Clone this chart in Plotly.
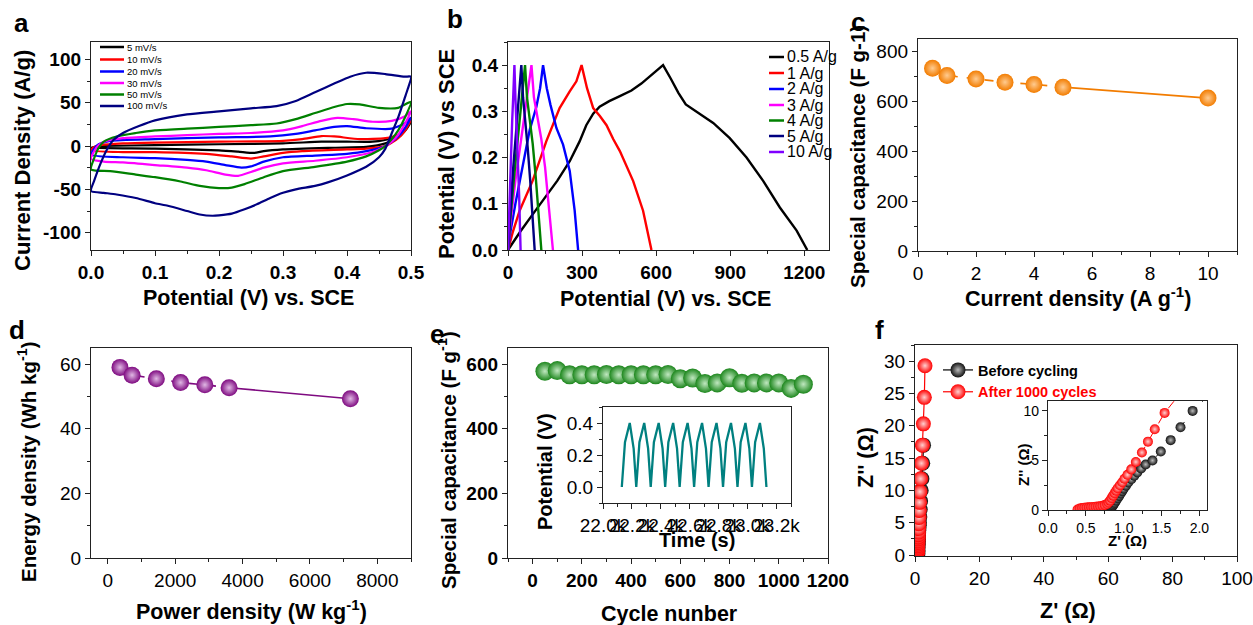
import plotly.graph_objects as go

W, H = 1253, 625
FONT = "Liberation Sans, Arial, sans-serif"

def px(x):
    return x / W

def py(y):
    return 1 - y / H

# ---------------- panel a : CV curves ----------------
cv_labels = ["5 mV/s", "10 mV/s", "20 mV/s", "30 mV/s", "50 mV/s", "100 mV/s"]
cv_colors = ["#000000", "#FF0000", "#0000FF", "#FF00FF", "#008000", "#000080"]

cv5_x = [0, 0.01, 0.02, 0.1, 0.2, 0.3, 0.36, 0.4, 0.44, 0.47, 0.49, 0.5,
         0.49, 0.48, 0.46, 0.43, 0.38, 0.3, 0.27, 0.255, 0.23, 0.2, 0.1, 0]
cv5_y = [-2, -0.5, 0, 1, 2, 3, 5, 5, 5, 9, 17, 28,
         17, 10, 3, -1, -2, -4, -6, -8, -6.5, -5, -3, -2]
cv10_x = [0, 0.005, 0.015, 0.05, 0.1, 0.2, 0.3, 0.33, 0.36, 0.38, 0.42, 0.46, 0.48, 0.49, 0.5,
          0.49, 0.48, 0.47, 0.46, 0.43, 0.4, 0.33, 0.3, 0.27, 0.25, 0.22, 0.18, 0.1, 0.05, 0]
cv10_y = [-5, -1, 1, 3, 4, 5, 6, 8, 11.5, 11, 8, 9, 13, 20, 30,
          17, 9, 4, 0, -3, -4, -6, -8, -12, -14.5, -12, -9, -7, -7, -5]
cv20_x = [0, 0.005, 0.012, 0.03, 0.1, 0.2, 0.28, 0.32, 0.35, 0.38, 0.4, 0.43, 0.47, 0.49, 0.5,
          0.49, 0.48, 0.47, 0.46, 0.43, 0.4, 0.35, 0.3, 0.27, 0.25, 0.235, 0.21, 0.18, 0.15, 0.1, 0.05, 0]
cv20_y = [-10, -3, 2, 6, 8, 10, 11, 14, 18, 22, 23, 20.5, 20, 26, 33,
          20, 11, 5, 0, -6, -9, -11, -13, -18, -23.5, -25, -22, -18, -16, -14, -13, -10]
cv30_x = [0, 0.005, 0.012, 0.025, 0.05, 0.1, 0.15, 0.2, 0.25, 0.3, 0.33, 0.36, 0.385, 0.41, 0.44, 0.47, 0.49, 0.5,
          0.49, 0.48, 0.47, 0.46, 0.44, 0.4, 0.35, 0.3, 0.27, 0.25, 0.23, 0.21, 0.18, 0.15, 0.1, 0.05, 0.02, 0]
cv30_y = [-15, -6, 1, 6, 9, 11, 12.5, 14, 15, 18, 23, 29, 32.5, 31, 28, 29, 34, 40,
          25, 13, 5, 0, -7, -13, -17, -20, -25, -30, -34.5, -33, -28, -25, -22, -19, -18, -15]
cv50_x = [0, 0.005, 0.012, 0.02, 0.04, 0.07, 0.1, 0.15, 0.2, 0.25, 0.29, 0.32, 0.35, 0.38, 0.4, 0.42, 0.45, 0.48, 0.5,
          0.49, 0.48, 0.47, 0.46, 0.45, 0.43, 0.4, 0.35, 0.3, 0.27, 0.24, 0.22, 0.2, 0.17, 0.14, 0.1, 0.07, 0.03, 0]
cv50_y = [-27, -14, -2, 5, 11, 15, 18, 20, 22, 24, 26, 31, 38, 45, 48.5, 48, 44, 44, 51,
          32, 18, 8, 0, -5, -12, -18, -24, -29, -36, -44, -48, -48.5, -46, -41, -36, -33, -29, -27]
cv100_x = [0, 0.005, 0.015, 0.025, 0.035, 0.05, 0.075, 0.1, 0.15, 0.2, 0.25, 0.29, 0.32, 0.35, 0.38, 0.405, 0.43, 0.46, 0.49, 0.5,
           0.495, 0.49, 0.48, 0.47, 0.46, 0.45, 0.43, 0.4, 0.37, 0.35, 0.32, 0.3, 0.28, 0.26, 0.24, 0.22, 0.2, 0.19, 0.17, 0.15, 0.12, 0.1, 0.07, 0.04, 0.02, 0]
cv100_y = [-52, -40, -20, -4, 7, 15, 23, 29.5, 36.5, 40, 43.5, 46, 52, 62, 72, 80, 84.5, 83, 80, 80,
           66, 55, 33, 15, -3, -13, -24, -34, -42, -46, -50, -54, -60, -67, -73, -78, -80, -80.5, -79, -75, -69, -66, -60, -56, -54, -52]
cv_x = [cv5_x, cv10_x, cv20_x, cv30_x, cv50_x, cv100_x]
cv_y = [cv5_y, cv10_y, cv20_y, cv30_y, cv50_y, cv100_y]
cv_yticks = [-100, -50, 0, 50, 100]
cv_yticktext = ["-100", "-50", "0", "50", "100"]

# ---------------- panel b : GCD curves ----------------
gcd_labels = ["0.5 A/g", "1 A/g", "2 A/g", "3 A/g", "4 A/g", "5 A/g", "10 A/g"]
gcd_colors = ["#000000", "#FF0000", "#0000FF", "#FF00FF", "#008000", "#000080", "#8000FF"]
g05_t = [0, 50, 100, 150, 200, 250, 290, 317, 345, 371, 410, 453, 500, 540, 588, 628,
         660, 690, 720, 763, 831, 898, 966, 1034, 1101, 1169, 1212]
g05_v = [0, 0.04, 0.077, 0.113, 0.15, 0.192, 0.235, 0.27, 0.295, 0.31, 0.322, 0.333, 0.345, 0.36, 0.383, 0.4,
         0.37, 0.34, 0.315, 0.3, 0.275, 0.242, 0.2, 0.149, 0.092, 0.042, 0]
g1_t = [0, 20, 47, 100, 155, 209, 250, 277, 298, 320, 345, 372, 399, 426, 453, 480, 507, 547, 581]
g1_v = [0, 0.04, 0.085, 0.15, 0.235, 0.307, 0.343, 0.365, 0.4, 0.35, 0.307, 0.29, 0.27, 0.24, 0.214, 0.18, 0.149, 0.085, 0]
g2_t = [0, 10, 30, 60, 88, 115, 130, 142, 157, 172, 196, 223, 250, 270, 284]
g2_v = [0, 0.04, 0.1, 0.18, 0.26, 0.31, 0.35, 0.4, 0.35, 0.314, 0.264, 0.228, 0.171, 0.085, 0]
g3_t = [0, 10, 30, 55, 75, 95, 105, 118, 135, 150, 165, 182]
g3_v = [0, 0.06, 0.15, 0.25, 0.32, 0.4, 0.33, 0.29, 0.24, 0.18, 0.1, 0]
g4_t = [0, 8, 25, 45, 58, 69, 77, 88, 100, 112, 124, 135]
g4_v = [0, 0.06, 0.16, 0.27, 0.33, 0.4, 0.33, 0.28, 0.23, 0.16, 0.08, 0]
g5_t = [0, 6, 20, 35, 45, 54, 61, 70, 80, 90, 99, 108]
g5_v = [0, 0.06, 0.17, 0.27, 0.33, 0.4, 0.33, 0.28, 0.22, 0.15, 0.08, 0]
g10_t = [0, 4, 10, 17, 21, 26, 30, 35, 40, 45, 51]
g10_v = [0, 0.08, 0.18, 0.28, 0.33, 0.4, 0.33, 0.27, 0.2, 0.12, 0]
gcd_t = [g05_t, g1_t, g2_t, g3_t, g4_t, g5_t, g10_t]
gcd_v = [g05_v, g1_v, g2_v, g3_v, g4_v, g5_v, g10_v]

# ---------------- panel c : rate capability ----------------
rate_current = [0.5, 1, 2, 3, 4, 5, 10]
rate_capacitance = [733, 704, 690, 677, 668, 657, 613]

# ---------------- panel d : Ragone ----------------
power_density = [360, 720, 1440, 2160, 2880, 3600, 7200]
energy_density = [59.0, 56.6, 55.5, 54.3, 53.6, 52.7, 49.3]

# ---------------- panel e : cycling ----------------
cycle_number = [50, 100, 150, 200, 250, 300, 350, 400, 450, 500, 550,
                600, 650, 700, 750, 800, 850, 900, 950, 1000, 1050, 1100]
cycle_capacitance = [578, 580, 567, 567, 567, 568, 567, 567, 567, 567, 568,
                     555, 557, 540, 542, 558, 541, 542, 542, 542, 525, 538]
inset_time = [22130, 22152, 22185, 22212, 22230, 22252, 22285, 22312, 22330, 22352, 22385, 22412,
              22430, 22452, 22485, 22512, 22530, 22552, 22585, 22612, 22630, 22652, 22685, 22712,
              22730, 22752, 22785, 22812, 22830, 22852, 22885, 22912, 22930, 22952, 22985, 23012,
              23030, 23052, 23085, 23112, 23130]
inset_potential = [0, 0.28, 0.40, 0.24, 0, 0.28, 0.40, 0.24, 0, 0.28, 0.40, 0.24,
                   0, 0.28, 0.40, 0.24, 0, 0.28, 0.40, 0.24, 0, 0.28, 0.40, 0.24,
                   0, 0.28, 0.40, 0.24, 0, 0.28, 0.40, 0.24, 0, 0.28, 0.40, 0.24,
                   0, 0.28, 0.40, 0.24, 0]
inset_tickvals = [22000, 22200, 22400, 22600, 22800, 23000, 23200]
inset_ticktext = ["22.0k", "22.2k", "22.4k", "22.6k", "22.8k", "23.0k", "23.2k"]

# ---------------- panel f : EIS ----------------
before_zre = [0.80, 0.81, 0.82, 0.83, 0.84, 0.85, 0.86, 0.87, 0.88, 0.90, 0.92, 0.94, 0.96, 0.98, 1.00,
              1.03, 1.06, 1.10, 1.14, 1.18, 1.23, 1.29, 1.38, 1.49, 1.62, 1.75, 1.91, 2.15, 2.40, 2.65]
before_zim = [0.00, 0.05, 0.10, 0.18, 0.27, 0.37, 0.48, 0.60, 0.73, 0.95, 1.18, 1.42, 1.66, 1.90, 2.15,
              2.45, 2.78, 3.10, 3.45, 3.80, 4.20, 4.60, 5.00, 5.90, 7.05, 8.35, 10.0, 11.8, 14.2, 17.0]
after_zre = [0.39, 0.42, 0.45, 0.48, 0.51, 0.54, 0.57, 0.60, 0.63, 0.66, 0.69, 0.72, 0.75, 0.78, 0.80,
             0.82, 0.84, 0.86, 0.88, 0.90, 0.92, 0.95, 0.98, 1.01, 1.05, 1.10, 1.16, 1.24, 1.32, 1.41,
             1.54, 1.75, 2.00, 2.30, 2.60, 2.90, 3.10]
after_zim = [0.05, 0.15, 0.20, 0.23, 0.25, 0.27, 0.29, 0.31, 0.33, 0.36, 0.39, 0.43, 0.50, 0.60, 0.75,
             0.95, 1.20, 1.45, 1.70, 1.95, 2.20, 2.50, 2.80, 3.15, 3.55, 4.10, 4.85, 5.80, 6.90, 8.15,
             9.80, 11.8, 14.2, 17.0, 20.3, 24.4, 29.3]

# ======================================================
fig = go.Figure()

for i in range(6):
    fig.add_trace(go.Scatter(x=cv_x[i], y=cv_y[i], mode="lines", name=cv_labels[i],
                             line=dict(color=cv_colors[i], width=2.2, shape="spline", smoothing=0.6),
                             showlegend=False, xaxis="x", yaxis="y"))

for i in range(7):
    fig.add_trace(go.Scatter(x=gcd_t[i], y=gcd_v[i], mode="lines", name=gcd_labels[i],
                             line=dict(color=gcd_colors[i], width=2.4),
                             showlegend=False, xaxis="x2", yaxis="y2"))

ORANGE = "#F27C00"
fig.add_trace(go.Scatter(x=rate_current[:6], y=rate_capacitance[:6], mode="lines",
                         line=dict(color=ORANGE, width=1.6, dash="dash"), showlegend=False,
                         xaxis="x3", yaxis="y3"))
fig.add_trace(go.Scatter(x=rate_current[5:], y=rate_capacitance[5:], mode="lines",
                         line=dict(color=ORANGE, width=1.6), showlegend=False, xaxis="x3", yaxis="y3"))
fig.add_trace(go.Scatter(x=rate_current, y=rate_capacitance, mode="markers",
                         marker=dict(size=17, color=ORANGE, gradient=dict(type="radial", color="#FFCB90"),
                                     line=dict(width=0)),
                         showlegend=False, xaxis="x3", yaxis="y3"))

PURPLE = "#7E0A80"
fig.add_trace(go.Scatter(x=power_density[:6], y=energy_density[:6], mode="lines",
                         line=dict(color=PURPLE, width=1.6, dash="dash"), showlegend=False,
                         xaxis="x4", yaxis="y4"))
fig.add_trace(go.Scatter(x=power_density[5:], y=energy_density[5:], mode="lines",
                         line=dict(color=PURPLE, width=1.6), showlegend=False, xaxis="x4", yaxis="y4"))
fig.add_trace(go.Scatter(x=power_density, y=energy_density, mode="markers",
                         marker=dict(size=17, color=PURPLE, gradient=dict(type="radial", color="#E0B8E4"),
                                     line=dict(width=0)),
                         showlegend=False, xaxis="x4", yaxis="y4"))

GREEN = "#1C861C"
fig.add_trace(go.Scatter(x=cycle_number, y=cycle_capacitance, mode="markers",
                         marker=dict(size=19, color=GREEN, gradient=dict(type="radial", color="#C0E8C0"),
                                     line=dict(width=0)),
                         showlegend=False, xaxis="x5", yaxis="y5"))
fig.add_trace(go.Scatter(x=inset_time, y=inset_potential, mode="lines",
                         line=dict(color="#008080", width=2.3), showlegend=False, xaxis="x6", yaxis="y6"))

fig.add_trace(go.Scatter(x=before_zre, y=before_zim, mode="lines+markers", name="<b>Before cycling</b>",
                         line=dict(color="#000000", width=1.2),
                         marker=dict(size=15, color="#111111", gradient=dict(type="radial", color="#BBBBBB"),
                                     line=dict(width=0)),
                         legend="legend", xaxis="x7", yaxis="y7"))
fig.add_trace(go.Scatter(x=after_zre, y=after_zim, mode="lines+markers",
                         name='<span style="color:#FF0000"><b>After 1000 cycles</b></span>',
                         line=dict(color="#FF0000", width=1.2),
                         marker=dict(size=15, color="#FF0000", gradient=dict(type="radial", color="#FFD0D0"),
                                     line=dict(width=0)),
                         legend="legend", xaxis="x7", yaxis="y7"))
fig.add_trace(go.Scatter(x=before_zre, y=before_zim, mode="lines+markers",
                         line=dict(color="#000000", width=1, dash="dash"),
                         marker=dict(size=10, color="#111111", gradient=dict(type="radial", color="#BBBBBB"),
                                     line=dict(width=0)),
                         showlegend=False, xaxis="x8", yaxis="y8"))
fig.add_trace(go.Scatter(x=after_zre, y=after_zim, mode="lines+markers",
                         line=dict(color="#FF0000", width=1, dash="dash"),
                         marker=dict(size=10, color="#FF0000", gradient=dict(type="radial", color="#FFD0D0"),
                                     line=dict(width=0)),
                         showlegend=False, xaxis="x8", yaxis="y8"))


def tf(size=19, bold=False):
    d = dict(family=FONT, size=size, color="#000000")
    if bold:
        d["weight"] = "bold"
    return d


def axis(dom, rng, anchor, tickfont, minor_dtick=None, minor_tick0=0, **kw):
    d = dict(domain=dom, range=rng, anchor=anchor, showline=True, linecolor="#222222", linewidth=1.3,
             mirror=True, ticks="outside", ticklen=5, tickwidth=1.2, tickcolor="#222222",
             showgrid=False, zeroline=False, fixedrange=True, tickfont=tickfont, automargin=False)
    if minor_dtick is not None:
        d["minor"] = dict(ticks="outside", ticklen=3, tickwidth=1, tickcolor="#222222",
                          tickmode="linear", tick0=minor_tick0, dtick=minor_dtick, showgrid=False)
    d.update(kw)
    return d


def xd(a, b):
    return [px(a), px(b)]


def yd(top, bottom):
    return [py(bottom), py(top)]


layout = dict(
    width=W, height=H, margin=dict(l=0, r=0, t=0, b=0, autoexpand=False),
    paper_bgcolor="white", plot_bgcolor="white", font=dict(family=FONT, color="black"),
    showlegend=True,
    # a
    xaxis=axis(xd(91, 411), [0, 0.5], "y", tf(19, True), 0.05, 0, dtick=0.1, tick0=0, tickformat=".1f"),
    yaxis=axis(yd(42, 250), [-120, 120], "x", tf(19, True), 25, 0,
               tickmode="array", tickvals=cv_yticks, ticktext=cv_yticktext),
    # b
    xaxis2=axis(xd(508, 829), [0, 1300], "y2", tf(19, True), 150, 0, dtick=300, tick0=0),
    yaxis2=axis(yd(42, 250), [0, 0.45], "x2", tf(19, True), 0.05, 0, dtick=0.1, tickformat=".1f"),
    # c
    xaxis3=axis(xd(918, 1237), [0, 11], "y3", tf(19), 1, 0, dtick=2, tick0=0),
    yaxis3=axis(yd(39, 251), [0, 850], "x3", tf(19), 100, 0, dtick=200, tick0=0),
    # d
    xaxis4=axis(xd(91, 411), [-500, 9000], "y4", tf(19), 1000, 0, dtick=2000, tick0=0),
    yaxis4=axis(yd(348, 558), [0, 65], "x4", tf(19), 10, 0, dtick=20, tick0=0),
    # e
    xaxis5=axis(xd(508, 828), [-100, 1200], "y5", tf(19, True), 100, 0, dtick=200, tick0=0),
    yaxis5=axis(yd(348, 558), [0, 650], "x5", tf(19, True), 100, 0, dtick=200, tick0=0),
    # e inset
    xaxis6=axis(xd(603, 791), [22000, 23300], "y6", tf(19), 100, 22000,
                tickmode="array", tickvals=inset_tickvals, ticktext=inset_ticktext, tickangle=0),
    yaxis6=axis(yd(407, 503), [-0.1, 0.5], "x6", tf(19), 0.1, 0, dtick=0.2, tick0=0, tickformat=".1f"),
    # f
    xaxis7=axis(xd(915, 1237), [0, 100], "y7", tf(19), 10, 0, dtick=20, tick0=0),
    yaxis7=axis(yd(345, 556), [-0.15, 32.5], "x7", tf(19), 2.5, 0, dtick=5, tick0=0),
    # f inset
    xaxis8=axis(xd(1048, 1207), [0, 2.1], "y8", tf(14), 0.25, 0, dtick=0.5, tick0=0, tickformat=".1f"),
    yaxis8=axis(yd(401, 510), [0, 11], "x8", tf(14), 2.5, 0, dtick=5, tick0=0),
    legend=dict(x=px(938), y=py(354), xanchor="left", yanchor="top", bgcolor="rgba(0,0,0,0)",
                font=dict(family=FONT, size=14.5, color="black"), tracegroupgap=0, itemwidth=30),
)
fig.update_layout(**layout)

annotations = []


def note(text, x, y, size, angle=0, xanchor="center", color="black"):
    annotations.append(dict(text=text, x=px(x), y=py(y), xref="paper", yref="paper", showarrow=False,
                            xanchor=xanchor, yanchor="middle", textangle=angle,
                            font=dict(family=FONT, size=size, color=color)))


# panel letters
for letter, lx, ly in [("a", 21, 23), ("b", 455, 19), ("c", 858, 22), ("d", 17, 330), ("e", 437, 334), ("f", 879, 330)]:
    note("<b>%s</b>" % letter, lx, ly, 26)

# axis titles
note("<b>Current Density (A/g)</b>", 22, 161, 22, -90)
note("<b>Potential (V) vs. SCE</b>", 248, 298, 21.5)
note("<b>Potential (V) vs SCE</b>", 447, 154, 22, -90)
note("<b>Potential (V) vs. SCE</b>", 665, 299, 21.5)
note("<b>Special capacitance (F g-1)</b>", 857, 157, 20.5, -90)
note("<b>Current density (A g<sup>-1</sup>)</b>", 1078, 297, 21.5)
note("<b>Energy density (Wh kg<sup>-1</sup>)</b>", 27, 462, 20.5, -90)
note("<b>Power density (W kg<sup>-1</sup>)</b>", 251, 610, 21.5)
note("<b>Special capacitance (F g<sup>-1</sup>)</b>", 447, 460, 20.5, -90)
note("<b>Cycle nunber</b>", 669, 614, 21.5)
note("<b>Z'' (Ω)</b>", 866, 458, 21.5, -90)
note("<b>Z' (Ω)</b>", 1068, 611, 21.5)
note("<b>Potential (V)</b>", 545, 472, 20, -90)
note("<b>Time (s)</b>", 697, 540, 20)
note("<b>Z'' (Ω)</b>", 1023, 465, 15, -90)
note("<b>Z' (Ω)</b>", 1127, 540, 15)

# legend keys for panels a and b
shapes = []
a_rows = [47, 59.5, 71.5, 83, 94.5, 106]
for i, yy in enumerate(a_rows):
    shapes.append(dict(type="line", xref="paper", yref="paper", x0=px(100), x1=px(124), y0=py(yy), y1=py(yy),
                       line=dict(color=cv_colors[i], width=2.5)))
    note(cv_labels[i], 125, yy, 9.5, xanchor="left")
b_rows = [57, 73, 89, 105, 120.5, 136, 152]
for i, yy in enumerate(b_rows):
    shapes.append(dict(type="line", xref="paper", yref="paper", x0=px(769), x1=px(784), y0=py(yy), y1=py(yy),
                       line=dict(color=gcd_colors[i], width=2.5)))
    note(gcd_labels[i], 785, yy, 16, xanchor="left")

fig.update_layout(annotations=annotations, shapes=shapes)

fig.write_html("out.html", config={"displayModeBar": False},
               post_script="document.body.style.margin='0';document.body.style.overflow='hidden';")
